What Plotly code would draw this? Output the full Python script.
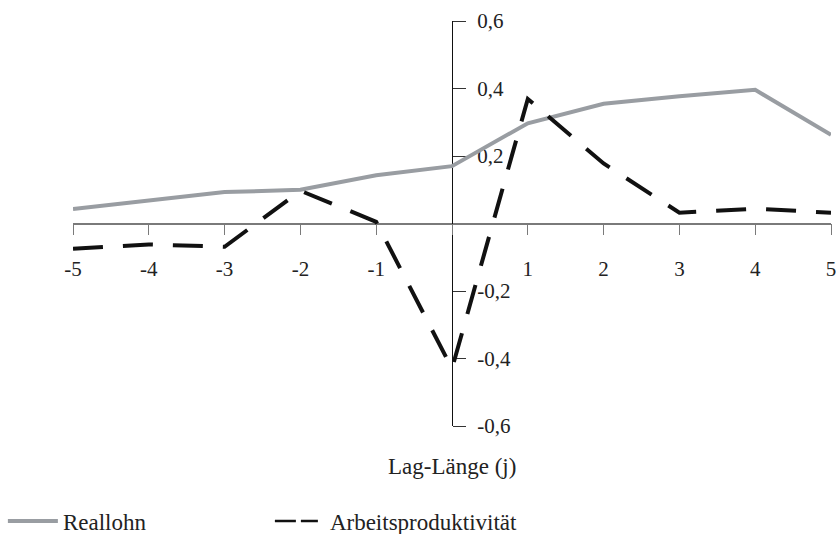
import plotly.graph_objects as go

lags = [-5, -4, -3, -2, -1, 0, 1, 2, 3, 4, 5]
reallohn = [0.043, 0.068, 0.093, 0.100, 0.143, 0.170, 0.297, 0.355, 0.377, 0.396, 0.263]
arbeitsproduktivitaet = [-0.075, -0.062, -0.069, 0.097, 0.005, -0.43, 0.369, 0.178, 0.032, 0.044, 0.032]

x_tickvals = [-5, -4, -3, -2, -1, 0, 1, 2, 3, 4, 5]
x_ticktext = ["-5", "-4", "-3", "-2", "-1", "", "1", "2", "3", "4", "5"]
y_tickvals = [-0.6, -0.4, -0.2, 0.2, 0.4, 0.6]
y_ticktext = ["-0,6", "-0,4", "-0,2", "0,2", "0,4", "0,6"]

FONT = "Liberation Serif"
GRAY = "#999da2"
BLACK = "#111111"
TXT = "#222222"

fig = go.Figure()
fig.add_trace(go.Scatter(x=lags, y=reallohn, mode="lines", name="Reallohn",
                         line=dict(color=GRAY, width=4), cliponaxis=False))
fig.add_trace(go.Scatter(x=lags, y=arbeitsproduktivitaet, mode="lines", name="Arbeitsproduktivität",
                         line=dict(color=BLACK, width=4, dash="30px,20px"), showlegend=False,
                         cliponaxis=False))
# legend swatch for dashed series
fig.add_trace(go.Scatter(x=[None], y=[None], mode="lines", name="Arbeitsproduktivität",
                         line=dict(color=BLACK, width=2.5, dash="21px,5px,17px,40px")))

fig.update_layout(
    width=836, height=534,
    margin=dict(l=73, r=5, t=21, b=108, autoexpand=False),
    paper_bgcolor="white", plot_bgcolor="white",
    font=dict(family=FONT, size=21, color=TXT),
    showlegend=True,
    legend=dict(orientation="h", x=-0.0925, xanchor="left", y=-0.235, yanchor="middle",
                itemwidth=50, entrywidth=202, entrywidthmode="pixels",
                font=dict(family=FONT, size=23, color=TXT), bgcolor="rgba(0,0,0,0)"),
    xaxis=dict(range=[-5, 5], anchor="free", position=0.5, showline=True,
               linecolor="#7a7a7a", linewidth=1.5, ticks="outside", ticklen=11,
               tickcolor="#7a7a7a", tickwidth=1, tickvals=x_tickvals, ticktext=x_ticktext,
               ticklabelstandoff=16, ticklabeloverflow="allow",
               showgrid=False, zeroline=False, layer="below traces",
               tickfont=dict(family=FONT, size=21, color=TXT)),
    yaxis=dict(range=[-0.6, 0.6], anchor="free", position=0.5, side="right", showline=True,
               linecolor="#111111", linewidth=1, ticks="outside", ticklen=13,
               tickcolor="#333333", tickwidth=1, tickvals=y_tickvals, ticktext=y_ticktext,
               ticklabelstandoff=7, ticklabeloverflow="allow",
               showgrid=False, zeroline=False, layer="below traces",
               tickfont=dict(family=FONT, size=21, color=TXT)),
    annotations=[dict(text="Lag-Länge (j)", x=0.5, y=-0.099, xref="paper", yref="paper",
                      xanchor="center", yanchor="middle", showarrow=False,
                      font=dict(family=FONT, size=23, color=TXT))],
)

fig.write_html("out.html", config={"displayModeBar": False},
               post_script="document.body.style.margin='0';document.body.style.padding='0';")
